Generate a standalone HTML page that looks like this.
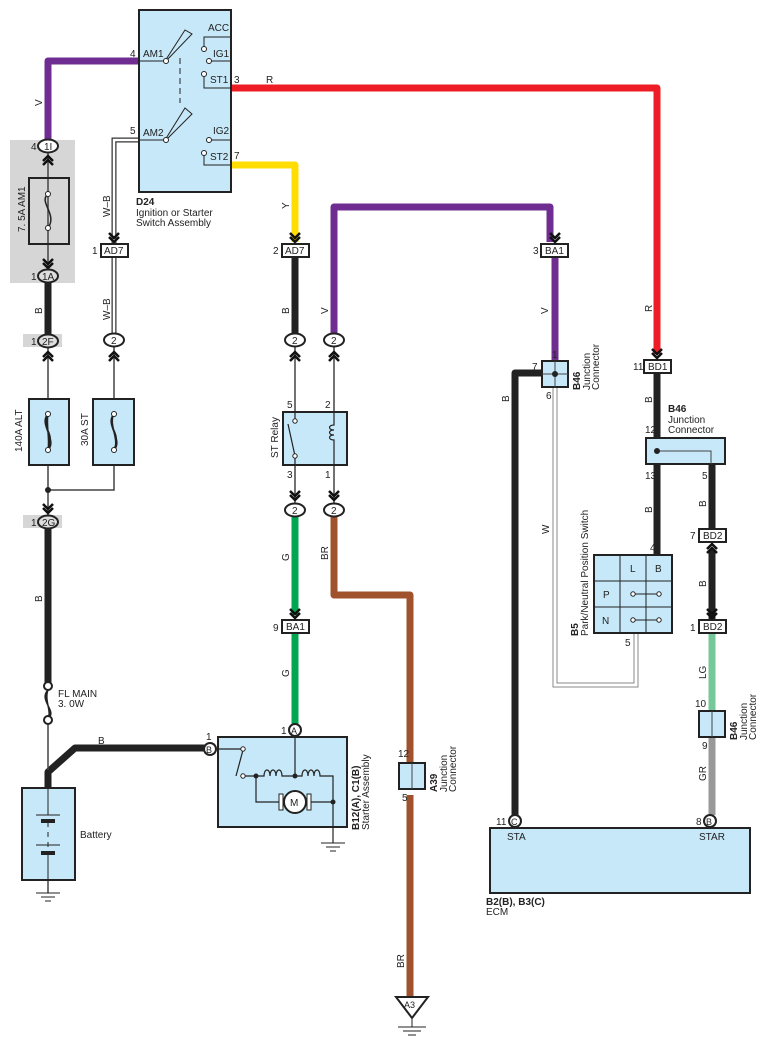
<!DOCTYPE html>
<html><head><meta charset="utf-8"><style>
html,body{margin:0;padding:0;background:#fff;}
svg{display:block;font-family:"Liberation Sans",sans-serif;}
text{font-size:10px;fill:#222;}
.s{font-size:9px;}
</style></head><body>
<svg width="766" height="1050" viewBox="0 0 766 1050" xmlns="http://www.w3.org/2000/svg">
<defs>
<g id="chd"><polyline points="-5,-9 0,-4 5,-9" fill="none" stroke="#111" stroke-width="2.5"/><polyline points="-5,-5 0,0 5,-5" fill="none" stroke="#111" stroke-width="2.5"/></g>
<g id="chu"><polyline points="-5,9 0,4 5,9" fill="none" stroke="#111" stroke-width="2.5"/><polyline points="-5,5 0,0 5,5" fill="none" stroke="#111" stroke-width="2.5"/></g>
</defs>
<rect x="10" y="140" width="65" height="143" fill="#d6d6d6"/>
<rect x="23" y="334" width="39" height="13" fill="#d6d6d6"/>
<rect x="23" y="515" width="39" height="13" fill="#d6d6d6"/>

<g fill="none" stroke-linejoin="round" stroke-width="7">
<path d="M139,61 H48 V140" stroke="#6f2c91"/>
<path d="M48,283 V334" stroke="#222"/>
<path d="M48,528 V684" stroke="#222"/>
<path d="M48,788 V772 L75,748 H205" stroke="#222"/>
<path d="M231,88 H657 V354" stroke="#ee1c25"/>
<path d="M231,165 H295 V242" stroke="#ffdd00"/>
<path d="M295,257 V333" stroke="#222"/>
<path d="M334,333 V207 H550 V242" stroke="#6f2c91"/>
<path d="M555,257 V361" stroke="#6f2c91"/>
<path d="M295,517 V615" stroke="#00a650"/>
<path d="M295,634 V724" stroke="#00a650"/>
<path d="M334,517 V595 H410 V765" stroke="#a0522d"/>
<path d="M410,795 V998" stroke="#a0522d"/>
<path d="M545,373 H515 V815" stroke="#222"/>
<path d="M657,373 V437" stroke="#222"/>
<path d="M657,464 V555" stroke="#222"/>
<path d="M712,464 V528" stroke="#222"/>
<path d="M712,550 V620" stroke="#222"/>
<path d="M712,633 V710" stroke="#77c898"/>
<path d="M712,738 V815" stroke="#999"/>
</g>
<g fill="none" stroke="#444" stroke-width="1.5">
<path d="M48,153 V270"/>
<path d="M48,347 V515"/><path d="M114,346 V490 H48"/>
<path d="M48,722 V770"/>
<path d="M48,880 V893"/>
<path d="M295,347 V504"/><path d="M334,347 V504"/>
</g>
<path d="M139,140 H114 V245 M114,257 V333" fill="none" stroke="#333" stroke-width="5"/>
<path d="M139,140 H114 V245 M114,257 V333" fill="none" stroke="#fff" stroke-width="2.5"/>
<path d="M555,388 V685 H636 V633" fill="none" stroke="#888" stroke-width="5"/>
<path d="M555,388 V685 H636 V633" fill="none" stroke="#fff" stroke-width="3"/>
<circle cx="48" cy="490" r="3" fill="#222"/>

<rect x="139" y="10" width="92" height="182" fill="#c6e8f8" stroke="#222" stroke-width="2"/>
<g stroke="#222" stroke-width="1" fill="none">
<path d="M139,61 H165 L185,30 L192,34 L166,61"/>
<path d="M139,140 H165 L185,108 L192,114 L166,140"/>
<path d="M180,58 V103" stroke-dasharray="6,4"/>
<path d="M204,48 V37 H231 M209,61 H231 M204,75 V88 H231 M209,140 H231 M204,155 V165 H231"/>
</g>
<g fill="#fff" stroke="#222" stroke-width="1">
<circle cx="166" cy="61" r="2.5"/><circle cx="166" cy="140" r="2.5"/>
<circle cx="204" cy="49" r="2.5"/><circle cx="209" cy="61" r="2.5"/><circle cx="204" cy="74" r="2.5"/><circle cx="209" cy="140" r="2.5"/><circle cx="204" cy="153" r="2.5"/>
</g>
<text x="208" y="31">ACC</text><text x="213" y="57">IG1</text><text x="210" y="83">ST1</text><text x="213" y="134">IG2</text><text x="210" y="160">ST2</text>
<text x="143" y="57">AM1</text><text x="143" y="136">AM2</text>
<text x="130" y="57">4</text><text x="130" y="134">5</text><text x="234" y="83">3</text><text x="234" y="159">7</text>
<text x="266" y="83">R</text>
<text x="136" y="205" font-weight="bold">D24</text><text x="136" y="216">Ignition or Starter</text><text x="136" y="226">Switch Assembly</text>

<rect x="29" y="178" width="40" height="66" fill="none" stroke="#222" stroke-width="2"/>
<path d="M48,194 C38,202 58,214 48,228" fill="none" stroke="#222" stroke-width="1.5"/>
<circle cx="48" cy="194" r="2.5" fill="#fff" stroke="#222"/><circle cx="48" cy="228" r="2.5" fill="#fff" stroke="#222"/>
<text transform="translate(25,232) rotate(-90)" font-size="11">7. 5A AM1</text>
<use href="#chu" x="48" y="156"/><use href="#chd" x="48" y="268"/>

<rect x="29" y="399" width="40" height="66" fill="#c6e8f8" stroke="#222" stroke-width="2"/>
<rect x="93" y="399" width="41" height="66" fill="#c6e8f8" stroke="#222" stroke-width="2"/>
<g fill="none" stroke="#222" stroke-width="1.5">
<path d="M48,414 C38,424 58,440 48,450 M48,414 C42,424 54,440 48,450 M48,414 C46,424 50,440 48,450 M48,414 C40,430 56,430 48,450"/>
<path d="M114,414 C104,424 124,440 114,450 M114,414 C108,424 120,440 114,450 M114,414 C106,430 122,430 114,450"/>
</g>
<circle cx="48" cy="414" r="2.5" fill="#fff" stroke="#222"/><circle cx="48" cy="450" r="2.5" fill="#fff" stroke="#222"/>
<circle cx="114" cy="414" r="2.5" fill="#fff" stroke="#222"/><circle cx="114" cy="450" r="2.5" fill="#fff" stroke="#222"/>
<text transform="translate(22,452) rotate(-90)">140A ALT</text>
<text transform="translate(88,446) rotate(-90)">30A ST</text>
<use href="#chu" x="48" y="352"/><use href="#chu" x="114" y="352"/><use href="#chd" x="48" y="513"/>

<path d="M48,690 C38,700 58,712 48,718 M48,690 C42,700 54,712 48,718 M48,690 C44,700 52,712 48,718" fill="none" stroke="#222" stroke-width="1.5"/>
<circle cx="48" cy="686" r="4" fill="#fff" stroke="#222" stroke-width="2"/><circle cx="48" cy="720" r="4" fill="#fff" stroke="#222" stroke-width="2"/>
<text x="58" y="697">FL MAIN</text><text x="58" y="707">3. 0W</text>
<text x="98" y="744">B</text>

<rect x="22" y="788" width="53" height="92" fill="#c6e8f8" stroke="#222" stroke-width="2"/>
<g stroke="#222" fill="none"><path d="M48,788 V815 M36,815 H60 M48,822 V827 M48,832 V837 M48,842 V847 M36,845 H60 M48,853 V880"/></g>
<rect x="41" y="819" width="14" height="4" fill="#222"/><rect x="41" y="851" width="14" height="4" fill="#222"/>
<text x="80" y="838">Battery</text>
<g stroke="#222"><path d="M36,893 H60 M41,897 H55 M45,901 H51"/></g>

<rect x="218" y="737" width="129" height="90" fill="#c6e8f8" stroke="#222" stroke-width="2"/>
<g stroke="#222" fill="none" stroke-width="1.2">
<path d="M215,749 H243 M243,750 L236,776 M243,776 H256 M256,776 V802 H282 M305,802 H333 V843 M295,737 V776"/>
<path d="M256,776 H264 c0,-8 6,-8 6,0 c0,-8 6,-8 6,0 c0,-8 6,-8 6,0 H295 H302 c0,-8 6,-8 6,0 c0,-8 6,-8 6,0 c0,-8 6,-8 6,0 H333 V802"/>
</g>
<circle cx="295" cy="802" r="11" fill="#fff" stroke="#222" stroke-width="2"/><rect x="279" y="794" width="4" height="16" fill="#fff" stroke="#222"/><rect x="307" y="794" width="4" height="16" fill="#fff" stroke="#222"/>
<text x="290" y="806">M</text>
<circle cx="243" cy="749" r="2.2" fill="#fff" stroke="#222"/><circle cx="243" cy="776" r="2.2" fill="#fff" stroke="#222"/>
<circle cx="256" cy="776" r="2.5" fill="#222"/><circle cx="295" cy="776" r="2.5" fill="#222"/><circle cx="333" cy="802" r="2.5" fill="#222"/>
<g stroke="#222"><path d="M321,843 H345 M326,847 H340 M330,851 H336"/></g>
<circle cx="210" cy="749" r="6" fill="#fff" stroke="#222" stroke-width="2"/><text x="206" y="753" class="s">B</text><text x="206" y="740">1</text>
<circle cx="295" cy="730" r="6" fill="#fff" stroke="#222" stroke-width="2"/><text x="291" y="734" class="s">A</text><text x="281" y="734">1</text>
<text transform="translate(359,830) rotate(-90)" font-weight="bold">B12(A), C1(B)</text>
<text transform="translate(369,830) rotate(-90)">Starter Assembly</text>

<rect x="283" y="412" width="64" height="53" fill="#c6e8f8" stroke="#222" stroke-width="2"/>
<g stroke="#222" fill="none" stroke-width="1.2">
<path d="M295,421 V412 M295,456 V465 M295,456 L288,424"/>
<path d="M334,412 V425 c-6,0 -6,5 0,5 c-6,0 -6,5 0,5 c-6,0 -6,5 0,5 V465"/>
</g>
<circle cx="295" cy="421" r="2.2" fill="#fff" stroke="#222"/><circle cx="295" cy="456" r="2.2" fill="#fff" stroke="#222"/>
<text x="287" y="408">5</text><text x="325" y="408">2</text><text x="287" y="478">3</text><text x="325" y="478">1</text>
<text transform="translate(278,458) rotate(-90)">ST Relay</text>
<use href="#chu" x="295" y="352"/><use href="#chu" x="334" y="352"/><use href="#chd" x="295" y="500"/><use href="#chd" x="334" y="500"/>

<g fill="#fff" stroke="#222" stroke-width="2">
<ellipse cx="48" cy="146" rx="10" ry="6.5"/><ellipse cx="48" cy="276" rx="10" ry="6.5" fill="#ddd"/>
<ellipse cx="48" cy="341" rx="10" ry="6.5" fill="#ddd"/><ellipse cx="48" cy="522" rx="10" ry="6.5" fill="#ddd"/>
<ellipse cx="114" cy="340" rx="10" ry="6.5"/>
<ellipse cx="295" cy="340" rx="10" ry="6.5"/><ellipse cx="334" cy="340" rx="10" ry="6.5"/>
<ellipse cx="295" cy="510" rx="10" ry="6.5"/><ellipse cx="334" cy="510" rx="10" ry="6.5"/>
</g>
<g class="s">
<text x="44" y="150">1I</text><text x="42" y="280">1A</text><text x="42" y="345">2F</text><text x="42" y="526">2G</text>
<text x="111" y="344">2</text><text x="292" y="344">2</text><text x="331" y="344">2</text><text x="292" y="514">2</text><text x="331" y="514">2</text>
</g>
<text x="31" y="150">4</text><text x="31" y="280">1</text><text x="31" y="345">1</text><text x="31" y="526">1</text>

<g fill="#fff" stroke="#222" stroke-width="2">
<rect x="101" y="244" width="27" height="13"/><rect x="282" y="244" width="27" height="13"/>
<rect x="541" y="244" width="27" height="13"/><rect x="282" y="620" width="27" height="13"/>
<rect x="644" y="360" width="27" height="13"/><rect x="699" y="529" width="27" height="13"/><rect x="699" y="620" width="27" height="13"/>
</g>
<g class="s">
<text x="104" y="254">AD7</text><text x="285" y="254">AD7</text><text x="545" y="254">BA1</text><text x="286" y="630">BA1</text>
<text x="648" y="370">BD1</text><text x="703" y="539">BD2</text><text x="703" y="630">BD2</text>
</g>
<text x="92" y="254">1</text><text x="273" y="254">2</text><text x="533" y="254">3</text><text x="273" y="631">9</text>
<text x="633" y="370">11</text><text x="690" y="539">7</text><text x="690" y="631">1</text>
<use href="#chd" x="114" y="242"/><use href="#chd" x="295" y="242"/><use href="#chd" x="555" y="242"/><use href="#chd" x="295" y="618"/>
<use href="#chd" x="657" y="358"/><use href="#chu" x="712" y="544"/><use href="#chd" x="712" y="618"/>

<rect x="542" y="361" width="26" height="26" fill="#c6e8f8" stroke="#222" stroke-width="2"/>
<path d="M555,361 V387 M542,374 H568" stroke="#444"/><circle cx="555" cy="374" r="3" fill="#222"/>
<text x="552" y="358">1</text><text x="532" y="370">7</text><text x="546" y="399">6</text>
<text transform="translate(580,390) rotate(-90)" font-weight="bold">B46</text>
<text transform="translate(590,390) rotate(-90)">Junction</text><text transform="translate(599,390) rotate(-90)">Connector</text>

<rect x="646" y="438" width="79" height="26" fill="#c6e8f8" stroke="#222" stroke-width="2"/>
<path d="M657,451 H711 V464" fill="none" stroke="#444"/><circle cx="657" cy="451" r="3" fill="#222"/>
<text x="668" y="412" font-weight="bold">B46</text><text x="668" y="423">Junction</text><text x="668" y="433">Connector</text>
<text x="645" y="433">12</text><text x="645" y="479">13</text><text x="702" y="479">5</text>

<rect x="594" y="555" width="78" height="78" fill="#c6e8f8" stroke="#222" stroke-width="2"/>
<g stroke="#222" fill="none"><path d="M620,555 V633 M646,555 V633 M594,581 H672 M594,607 H672 M633,594 H659 M633,620 H659"/></g>
<g fill="#fff" stroke="#222"><circle cx="633" cy="594" r="2.2"/><circle cx="659" cy="594" r="2.2"/><circle cx="633" cy="620" r="2.2"/><circle cx="659" cy="620" r="2.2"/></g>
<text x="630" y="572">L</text><text x="655" y="572">B</text><text x="603" y="598">P</text><text x="602" y="624">N</text>
<text x="650" y="551">4</text><text x="625" y="646">5</text>
<text transform="translate(578,636) rotate(-90)" font-weight="bold">B5</text>
<text transform="translate(588,636) rotate(-90)">Park/Neutral Position Switch</text>

<rect x="699" y="711" width="26" height="26" fill="#c6e8f8" stroke="#222" stroke-width="2"/>
<path d="M712,711 V737" stroke="#444"/>
<text x="695" y="707">10</text><text x="702" y="749">9</text>
<text transform="translate(737,740) rotate(-90)" font-weight="bold">B46</text>
<text transform="translate(747,740) rotate(-90)">Junction</text><text transform="translate(756,740) rotate(-90)">Connector</text>

<rect x="399" y="763" width="26" height="26" fill="#c6e8f8" stroke="#222" stroke-width="2"/>
<path d="M412,763 V789" stroke="#444"/>
<text x="398" y="757">12</text><text x="402" y="801">5</text>
<text transform="translate(437,792) rotate(-90)" font-weight="bold">A39</text>
<text transform="translate(447,792) rotate(-90)">Junction</text><text transform="translate(456,792) rotate(-90)">Connector</text>

<polygon points="396,997 428,997 412,1018" fill="#fff" stroke="#222" stroke-width="2"/>
<text x="404" y="1008" class="s">A3</text>
<g stroke="#222"><path d="M412,1018 V1027 M398,1027 H426 M403,1031 H421 M408,1035 H416"/></g>

<rect x="490" y="828" width="260" height="65" fill="#c6e8f8" stroke="#222" stroke-width="2"/>
<circle cx="515" cy="821" r="6" fill="#fff" stroke="#222" stroke-width="2"/><text x="511" y="825" class="s">C</text>
<circle cx="710" cy="821" r="6" fill="#fff" stroke="#222" stroke-width="2"/><text x="706" y="825" class="s">B</text>
<text x="496" y="825">11</text><text x="696" y="825">8</text>
<text x="507" y="840">STA</text><text x="699" y="840">STAR</text>
<text x="486" y="905" font-weight="bold">B2(B), B3(C)</text><text x="486" y="915">ECM</text>

<g class="s">
<text transform="translate(42,106) rotate(-90)">V</text>
<text transform="translate(42,314) rotate(-90)">B</text>
<text transform="translate(42,602) rotate(-90)">B</text>
<text transform="translate(110,217) rotate(-90)">W–B</text>
<text transform="translate(110,320) rotate(-90)">W–B</text>
<text transform="translate(289,209) rotate(-90)">Y</text>
<text transform="translate(289,314) rotate(-90)">B</text>
<text transform="translate(328,314) rotate(-90)">V</text>
<text transform="translate(548,314) rotate(-90)">V</text>
<text transform="translate(289,561) rotate(-90)">G</text>
<text transform="translate(289,677) rotate(-90)">G</text>
<text transform="translate(328,560) rotate(-90)">BR</text>
<text transform="translate(404,968) rotate(-90)">BR</text>
<text transform="translate(509,402) rotate(-90)">B</text>
<text transform="translate(549,534) rotate(-90)">W</text>
<text transform="translate(652,312) rotate(-90)">R</text>
<text transform="translate(652,403) rotate(-90)">B</text>
<text transform="translate(652,513) rotate(-90)">B</text>
<text transform="translate(706,507) rotate(-90)">B</text>
<text transform="translate(706,587) rotate(-90)">B</text>
<text transform="translate(706,679) rotate(-90)">LG</text>
<text transform="translate(706,781) rotate(-90)">GR</text>
</g>
</svg>
</body></html>
